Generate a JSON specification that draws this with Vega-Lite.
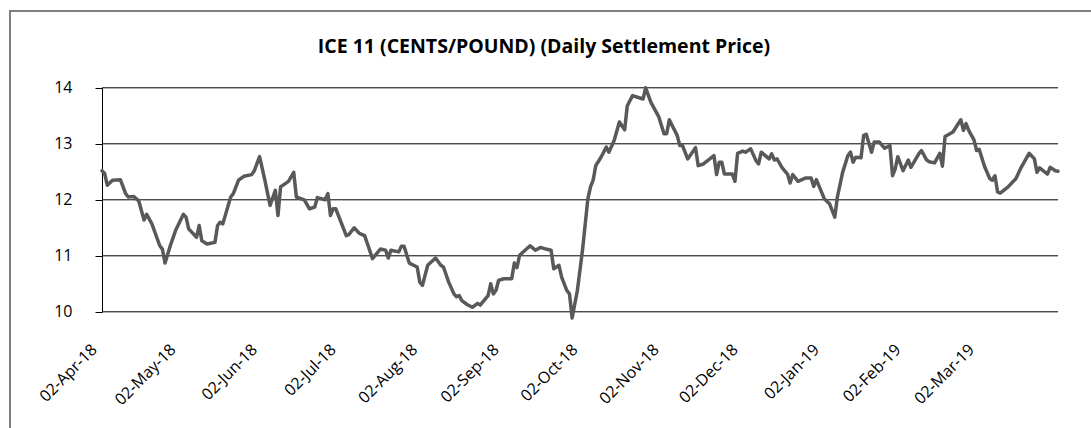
{
  "$schema": "https://vega.github.io/schema/vega-lite/v6.json",
  "autosize": "none",
  "padding": {"left": 10, "top": 11, "right": -3, "bottom": -3},
  "width": 1084,
  "height": 420,
  "background": "#ffffff",
  "config": {"view": {"stroke": "#7f7f7f", "strokeWidth": 2}},
  "title": {
    "text": "ICE 11 (CENTS/POUND) (Daily Settlement Price)",
    "font": "Open Sans", "fontSize": 19.5, "fontWeight": "bold", "color": "#000000",
    "anchor": "middle", "frame": "group", "offset": -61, "baseline": "alphabetic", "dx": -8
  },
  "layer": [
    {
      "data": {"values": [{"g": 10}, {"g": 11}, {"g": 12}, {"g": 13}, {"g": 14}]},
      "mark": {"type": "rule", "color": "#000000", "strokeWidth": 1},
      "encoding": {
        "y": {"field": "g", "type": "quantitative", "title": null},
        "x": {"datum": {"year": 2018, "month": 4, "date": 2}, "type": "temporal", "title": null},
        "x2": {"datum": {"year": 2019, "month": 4, "date": 1}}
      }
    },
    {
      "data": {"values": [
        {"date": "2018/04/02", "price": 12.52}, {"date": "2018/04/03", "price": 12.47}, {"date": "2018/04/04", "price": 12.26},
        {"date": "2018/04/06", "price": 12.35}, {"date": "2018/04/09", "price": 12.36}, {"date": "2018/04/11", "price": 12.11},
        {"date": "2018/04/12", "price": 12.05}, {"date": "2018/04/14", "price": 12.06}, {"date": "2018/04/16", "price": 11.98},
        {"date": "2018/04/18", "price": 11.64}, {"date": "2018/04/19", "price": 11.74}, {"date": "2018/04/21", "price": 11.57},
        {"date": "2018/04/24", "price": 11.18}, {"date": "2018/04/25", "price": 11.12}, {"date": "2018/04/26", "price": 10.87},
        {"date": "2018/04/28", "price": 11.18}, {"date": "2018/04/30", "price": 11.45}, {"date": "2018/05/03", "price": 11.74},
        {"date": "2018/05/04", "price": 11.69}, {"date": "2018/05/05", "price": 11.48}, {"date": "2018/05/08", "price": 11.33},
        {"date": "2018/05/09", "price": 11.54}, {"date": "2018/05/10", "price": 11.27}, {"date": "2018/05/12", "price": 11.21},
        {"date": "2018/05/15", "price": 11.24}, {"date": "2018/05/16", "price": 11.54}, {"date": "2018/05/17", "price": 11.60},
        {"date": "2018/05/18", "price": 11.57}, {"date": "2018/05/21", "price": 12.05}, {"date": "2018/05/22", "price": 12.11},
        {"date": "2018/05/24", "price": 12.35}, {"date": "2018/05/26", "price": 12.42}, {"date": "2018/05/29", "price": 12.45},
        {"date": "2018/05/30", "price": 12.52}, {"date": "2018/06/01", "price": 12.77}, {"date": "2018/06/03", "price": 12.35},
        {"date": "2018/06/05", "price": 11.90}, {"date": "2018/06/07", "price": 12.17}, {"date": "2018/06/08", "price": 11.72},
        {"date": "2018/06/09", "price": 12.23}, {"date": "2018/06/12", "price": 12.33}, {"date": "2018/06/14", "price": 12.49},
        {"date": "2018/06/15", "price": 12.05}, {"date": "2018/06/18", "price": 12.00}, {"date": "2018/06/20", "price": 11.84},
        {"date": "2018/06/22", "price": 11.87}, {"date": "2018/06/23", "price": 12.04}, {"date": "2018/06/26", "price": 12.00},
        {"date": "2018/06/27", "price": 12.11}, {"date": "2018/06/28", "price": 11.72}, {"date": "2018/06/29", "price": 11.84},
        {"date": "2018/06/30", "price": 11.84}, {"date": "2018/07/02", "price": 11.60}, {"date": "2018/07/04", "price": 11.36},
        {"date": "2018/07/05", "price": 11.38}, {"date": "2018/07/07", "price": 11.50}, {"date": "2018/07/09", "price": 11.40},
        {"date": "2018/07/11", "price": 11.36}, {"date": "2018/07/14", "price": 10.95}, {"date": "2018/07/17", "price": 11.12},
        {"date": "2018/07/19", "price": 11.10}, {"date": "2018/07/20", "price": 10.96}, {"date": "2018/07/21", "price": 11.10},
        {"date": "2018/07/24", "price": 11.07}, {"date": "2018/07/25", "price": 11.17}, {"date": "2018/07/26", "price": 11.17},
        {"date": "2018/07/28", "price": 10.87}, {"date": "2018/07/31", "price": 10.80}, {"date": "2018/08/01", "price": 10.53},
        {"date": "2018/08/02", "price": 10.47}, {"date": "2018/08/04", "price": 10.83}, {"date": "2018/08/07", "price": 10.96},
        {"date": "2018/08/09", "price": 10.83}, {"date": "2018/08/10", "price": 10.80}, {"date": "2018/08/12", "price": 10.53},
        {"date": "2018/08/14", "price": 10.32}, {"date": "2018/08/15", "price": 10.27}, {"date": "2018/08/16", "price": 10.29},
        {"date": "2018/08/17", "price": 10.20}, {"date": "2018/08/19", "price": 10.13}, {"date": "2018/08/21", "price": 10.08},
        {"date": "2018/08/23", "price": 10.15}, {"date": "2018/08/24", "price": 10.12}, {"date": "2018/08/27", "price": 10.29},
        {"date": "2018/08/28", "price": 10.50}, {"date": "2018/08/29", "price": 10.32}, {"date": "2018/08/30", "price": 10.38},
        {"date": "2018/08/31", "price": 10.56}, {"date": "2018/09/02", "price": 10.59}, {"date": "2018/09/05", "price": 10.59},
        {"date": "2018/09/06", "price": 10.87}, {"date": "2018/09/07", "price": 10.79}, {"date": "2018/09/08", "price": 11.01},
        {"date": "2018/09/12", "price": 11.18}, {"date": "2018/09/14", "price": 11.10}, {"date": "2018/09/16", "price": 11.15},
        {"date": "2018/09/18", "price": 11.12}, {"date": "2018/09/20", "price": 11.10}, {"date": "2018/09/21", "price": 10.77},
        {"date": "2018/09/23", "price": 10.83}, {"date": "2018/09/24", "price": 10.62}, {"date": "2018/09/26", "price": 10.38},
        {"date": "2018/09/27", "price": 10.32}, {"date": "2018/09/28", "price": 9.89}, {"date": "2018/09/30", "price": 10.38},
        {"date": "2018/10/02", "price": 11.12}, {"date": "2018/10/04", "price": 12.02}, {"date": "2018/10/05", "price": 12.23},
        {"date": "2018/10/06", "price": 12.35}, {"date": "2018/10/07", "price": 12.61}, {"date": "2018/10/09", "price": 12.76},
        {"date": "2018/10/11", "price": 12.94}, {"date": "2018/10/12", "price": 12.85}, {"date": "2018/10/14", "price": 13.06},
        {"date": "2018/10/16", "price": 13.39}, {"date": "2018/10/18", "price": 13.25}, {"date": "2018/10/19", "price": 13.68},
        {"date": "2018/10/21", "price": 13.86}, {"date": "2018/10/25", "price": 13.80}, {"date": "2018/10/26", "price": 14.00},
        {"date": "2018/10/28", "price": 13.74}, {"date": "2018/10/31", "price": 13.48}, {"date": "2018/11/02", "price": 13.18},
        {"date": "2018/11/03", "price": 13.18}, {"date": "2018/11/04", "price": 13.43}, {"date": "2018/11/07", "price": 13.15},
        {"date": "2018/11/08", "price": 12.97}, {"date": "2018/11/09", "price": 12.97}, {"date": "2018/11/11", "price": 12.73},
        {"date": "2018/11/14", "price": 12.93}, {"date": "2018/11/15", "price": 12.61}, {"date": "2018/11/17", "price": 12.64},
        {"date": "2018/11/21", "price": 12.79}, {"date": "2018/11/22", "price": 12.45}, {"date": "2018/11/23", "price": 12.67},
        {"date": "2018/11/24", "price": 12.67}, {"date": "2018/11/25", "price": 12.46}, {"date": "2018/11/28", "price": 12.46},
        {"date": "2018/11/29", "price": 12.33}, {"date": "2018/11/30", "price": 12.83}, {"date": "2018/12/02", "price": 12.87},
        {"date": "2018/12/03", "price": 12.85}, {"date": "2018/12/05", "price": 12.91}, {"date": "2018/12/07", "price": 12.70},
        {"date": "2018/12/08", "price": 12.64}, {"date": "2018/12/09", "price": 12.85}, {"date": "2018/12/12", "price": 12.73},
        {"date": "2018/12/13", "price": 12.82}, {"date": "2018/12/14", "price": 12.71}, {"date": "2018/12/15", "price": 12.73},
        {"date": "2018/12/17", "price": 12.57}, {"date": "2018/12/19", "price": 12.46}, {"date": "2018/12/20", "price": 12.30},
        {"date": "2018/12/21", "price": 12.45}, {"date": "2018/12/23", "price": 12.33}, {"date": "2018/12/26", "price": 12.39},
        {"date": "2018/12/28", "price": 12.39}, {"date": "2018/12/29", "price": 12.24}, {"date": "2018/12/30", "price": 12.36},
        {"date": "2019/01/02", "price": 12.02}, {"date": "2019/01/04", "price": 11.93}, {"date": "2019/01/06", "price": 11.69},
        {"date": "2019/01/07", "price": 12.05}, {"date": "2019/01/09", "price": 12.49}, {"date": "2019/01/11", "price": 12.79},
        {"date": "2019/01/12", "price": 12.85}, {"date": "2019/01/13", "price": 12.67}, {"date": "2019/01/14", "price": 12.76},
        {"date": "2019/01/16", "price": 12.75}, {"date": "2019/01/17", "price": 13.15}, {"date": "2019/01/18", "price": 13.17},
        {"date": "2019/01/20", "price": 12.85}, {"date": "2019/01/21", "price": 13.03}, {"date": "2019/01/23", "price": 13.03},
        {"date": "2019/01/25", "price": 12.92}, {"date": "2019/01/27", "price": 12.97}, {"date": "2019/01/28", "price": 12.43},
        {"date": "2019/01/29", "price": 12.55}, {"date": "2019/01/30", "price": 12.77}, {"date": "2019/02/01", "price": 12.52},
        {"date": "2019/02/03", "price": 12.71}, {"date": "2019/02/04", "price": 12.58}, {"date": "2019/02/07", "price": 12.82},
        {"date": "2019/02/08", "price": 12.88}, {"date": "2019/02/10", "price": 12.71}, {"date": "2019/02/11", "price": 12.68},
        {"date": "2019/02/13", "price": 12.66}, {"date": "2019/02/15", "price": 12.83}, {"date": "2019/02/16", "price": 12.60},
        {"date": "2019/02/17", "price": 13.13}, {"date": "2019/02/20", "price": 13.21}, {"date": "2019/02/23", "price": 13.43},
        {"date": "2019/02/24", "price": 13.24}, {"date": "2019/02/25", "price": 13.36}, {"date": "2019/02/26", "price": 13.24},
        {"date": "2019/02/28", "price": 13.07}, {"date": "2019/03/01", "price": 12.88}, {"date": "2019/03/02", "price": 12.90},
        {"date": "2019/03/04", "price": 12.60}, {"date": "2019/03/06", "price": 12.38}, {"date": "2019/03/07", "price": 12.35},
        {"date": "2019/03/08", "price": 12.43}, {"date": "2019/03/09", "price": 12.14}, {"date": "2019/03/10", "price": 12.12},
        {"date": "2019/03/13", "price": 12.23}, {"date": "2019/03/16", "price": 12.38}, {"date": "2019/03/18", "price": 12.58},
        {"date": "2019/03/21", "price": 12.83}, {"date": "2019/03/23", "price": 12.73}, {"date": "2019/03/24", "price": 12.49},
        {"date": "2019/03/25", "price": 12.57}, {"date": "2019/03/28", "price": 12.46}, {"date": "2019/03/29", "price": 12.58},
        {"date": "2019/03/31", "price": 12.52}, {"date": "2019/04/01", "price": 12.51}
      ]},
      "mark": {"type": "line", "color": "#595959", "strokeWidth": 3.5, "strokeJoin": "round", "strokeCap": "round"},
      "encoding": {
        "x": {
          "field": "date", "type": "temporal", "title": null,
          "scale": {"domain": [{"year": 2018, "month": 4, "date": 2}, {"year": 2019, "month": 4, "date": 1}], "range": [92, 1048]},
          "axis": {
            "values": [
              {"year": 2018, "month": 4, "date": 2}, {"year": 2018, "month": 5, "date": 2}, {"year": 2018, "month": 6, "date": 2},
              {"year": 2018, "month": 7, "date": 2}, {"year": 2018, "month": 8, "date": 2}, {"year": 2018, "month": 9, "date": 2},
              {"year": 2018, "month": 10, "date": 2}, {"year": 2018, "month": 11, "date": 2}, {"year": 2018, "month": 12, "date": 2},
              {"year": 2019, "month": 1, "date": 2}, {"year": 2019, "month": 2, "date": 2}, {"year": 2019, "month": 3, "date": 2}
            ],
            "format": "%d-%b-%y", "orient": "bottom", "offset": -119.2,
            "domain": false, "ticks": false, "tickSize": 0, "grid": false,
            "labelAngle": -45, "labelAlign": "right", "labelBaseline": "middle",
            "labelOffset": -8, "labelPadding": 35, "labelFontSize": 16, "labelFont": "Open Sans",
            "labelColor": "#000000", "labelOverlap": false, "labelFlush": false, "title": null
          }
        },
        "y": {
          "field": "price", "type": "quantitative", "title": null,
          "scale": {"domain": [10, 14], "range": [300.8, 76.8], "nice": false, "zero": false},
          "axis": {
            "values": [10, 11, 12, 13, 14], "format": "d", "orient": "left", "offset": -92,
            "domain": true, "domainColor": "#000000", "domainWidth": 1,
            "ticks": true, "tickSize": 7, "tickColor": "#000000", "tickWidth": 1,
            "labelFontSize": 16, "labelFont": "Open Sans", "labelColor": "#000000", "labelPadding": 23,
            "grid": false, "title": null
          }
        }
      }
    }
  ]
}
